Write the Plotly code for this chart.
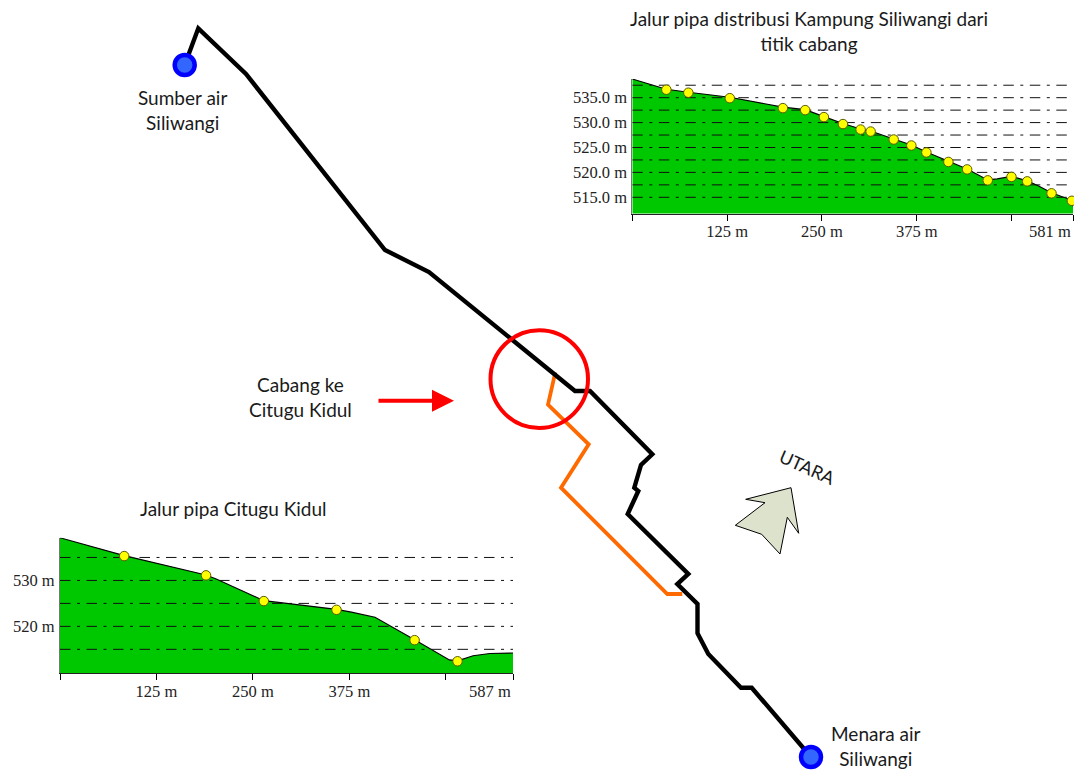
import plotly.graph_objects as go

# ---------- map (schematic plan of the pipe routes, picture units) ----------
main_route_x = [184.7, 198.3, 246, 385, 429, 566, 575, 590, 652.3, 641, 634.3, 638.3, 627.7,
                688.3, 677.3, 697.5, 697.5, 708.3, 741, 751.7, 803.3, 811]
main_route_y = [65, 28.3, 74, 250, 272, 382.5, 391, 391, 454.3, 465, 487.7, 491, 514,
                574, 584, 604, 633.3, 654, 687.7, 687.7, 746.7, 757]
branch_x = [555.3, 548, 588.7, 561, 667.3, 682.3]
branch_y = [372.3, 404.7, 444.3, 487.7, 594, 594]
ends_x = [184.7, 811]
ends_y = [65, 757]
compass_x = [791, 745.7, 765, 735.3, 761.7, 780, 787.3, 798.7, 791]
compass_y = [487.7, 499.3, 502.7, 525.3, 534.3, 554, 517.3, 533.3, 487.7]

# ---------- profile: Kampung Siliwangi ----------
sw_terrain_m = [0, 44.9, 73.9, 128.5, 198.5, 227.9, 252.6, 277.7, 301, 314.2, 344.6, 367.9, 387.7,
                416.7, 441.4, 468.6, 481, 499.9, 520.6, 535, 552.7, 579.5, 581]
sw_terrain_el = [538.75, 536.7, 536.1, 535.1, 533.1, 532.6, 531.2, 529.8, 528.7, 528.3, 526.7, 525.5, 524.1,
                 522.2, 520.7, 518.5, 518.7, 519.2, 518.3, 517.3, 515.9, 514.4, 513.2]
sw_pts_m = [44.9, 73.9, 128.5, 198.5, 227.9, 252.6, 277.7, 301, 314.2, 344.6, 367.9, 387.7,
            416.7, 441.4, 468.6, 499.9, 520.6, 552.7, 579.5]
sw_pts_el = [536.6, 536.0, 534.9, 532.9, 532.5, 531.1, 529.7, 528.6, 528.2, 526.6, 525.4, 524.0,
             522.1, 520.6, 518.4, 519.1, 518.2, 515.8, 514.3]
sw_grid = [537.5, 535, 532.5, 530, 527.5, 525, 522.5, 520, 517.5, 515]
sw_yticks = [535, 530, 525, 520, 515]
sw_ylabels = ["535.0 m", "530.0 m", "525.0 m", "520.0 m", "515.0 m"]
sw_xticks = [0, 125, 250, 375, 500, 581]
sw_xlabels = ["", "125 m", "250 m", "375 m", "", ""]

# ---------- profile: Citugu Kidul ----------
ck_terrain_m = [0, 83.2, 189.2, 202.4, 264.1, 358.3, 377.6, 408.2, 459.5, 504.6, 515.1, 535.3, 557, 587]
ck_terrain_el = [539.3, 535.4, 531.2, 530.3, 525.6, 523.7, 523.1, 522.0, 517.1, 512.7, 512.5, 513.6, 514.1, 514.2]
ck_pts_m = [83.2, 189.2, 264.1, 358.3, 459.5, 515.1]
ck_pts_el = [535.3, 531.1, 525.5, 523.6, 517.0, 512.4]
ck_grid = [535, 530, 525, 520, 515]
ck_yticks = [530, 520]
ck_ylabels = ["530 m", "520 m"]
ck_xticks = [0, 125, 250, 375, 500, 587]
ck_xlabels = ["", "125 m", "250 m", "375 m", "", ""]

W, H = 1074, 770
GREEN = "#00C800"
DASH = "10.5px,6.5px,3px,6.5px"
SANS = "Lato"
SERIF = "Liberation Serif"

fig = go.Figure()

# map traces
fig.add_trace(go.Scatter(x=branch_x, y=branch_y, mode="lines",
                         line=dict(color="#FF6A00", width=3.8, shape="linear"), hoverinfo="skip"))
fig.add_trace(go.Scatter(x=main_route_x, y=main_route_y, mode="lines",
                         line=dict(color="#000000", width=4.4), hoverinfo="skip"))
fig.add_trace(go.Scatter(x=ends_x, y=ends_y, mode="markers",
                         marker=dict(size=20, color="#3366FF", line=dict(color="#0000FF", width=4.5)),
                         hoverinfo="skip"))
fig.add_trace(go.Scatter(x=compass_x, y=compass_y, mode="lines", fill="toself", fillcolor="#DDE2CC",
                         line=dict(color="#000000", width=1), hoverinfo="skip"))


def profile(xa, ya, terrain_m, terrain_el, pts_m, pts_el, grid):
    xmax = terrain_m[-1]
    fig.add_trace(go.Scatter(x=terrain_m, y=terrain_el, mode="lines", fill="tozeroy", fillcolor=GREEN,
                             line=dict(color="#000000", width=1.1), xaxis=xa, yaxis=ya, hoverinfo="skip"))
    for g in grid:
        fig.add_trace(go.Scatter(x=[0, xmax], y=[g, g], mode="lines",
                                 line=dict(color="#111111", width=1, dash=DASH),
                                 xaxis=xa, yaxis=ya, hoverinfo="skip"))
    fig.add_trace(go.Scatter(x=pts_m, y=pts_el, mode="markers", cliponaxis=False,
                             marker=dict(size=9.5, color="#FFFF00", line=dict(color="#5A5A00", width=1)),
                             xaxis=xa, yaxis=ya, hoverinfo="skip"))


profile("x2", "y2", sw_terrain_m, sw_terrain_el, sw_pts_m, sw_pts_el, sw_grid)
profile("x3", "y3", ck_terrain_m, ck_terrain_el, ck_pts_m, ck_pts_el, ck_grid)


def txt(x, y, s, size=19, **kw):
    return dict(x=x, y=y, xref="x", yref="y", text=s, showarrow=False,
                font=dict(family=SANS, size=size, color="#1a1a1a"), align="center", **kw)


annotations = [
    txt(809, 31, "Jalur pipa distribusi Kampung Siliwangi dari<br>titik cabang"),
    txt(233, 508, "Jalur pipa Citugu Kidul"),
    txt(182, 110, "Sumber air<br>Siliwangi"),
    txt(300, 397, "Cabang ke<br>Citugu Kidul"),
    txt(875, 746, "Menara air<br>Siliwangi"),
    txt(807, 467, "UTARA", size=18, textangle=24),
    dict(x=454, y=400.7, ax=377, ay=400.7, xref="x", yref="y", axref="x", ayref="y", text="",
         showarrow=True, arrowhead=2, arrowsize=1.1, arrowwidth=4, arrowcolor="#FF0000"),
    dict(x=1, y=0, xref="x2 domain", yref="y2 domain", xanchor="right", yanchor="top", yshift=-7,
         text="581 m", showarrow=False, font=dict(family=SERIF, size=16.5, color="#222222")),
    dict(x=1, y=0, xref="x3 domain", yref="y3 domain", xanchor="right", yanchor="top", yshift=-7,
         text="587 m", showarrow=False, font=dict(family=SERIF, size=16.5, color="#222222")),
]

tickfont = dict(family=SERIF, size=16.5, color="#222222")


def x_ax(left, right, rng, vals, labels):
    return dict(domain=[left / W, right / W], range=rng, tickmode="array", tickvals=vals, ticktext=labels,
                ticks="outside", ticklen=6, tickwidth=1, tickcolor="#000000", showgrid=False, zeroline=False,
                showline=True, linecolor="#222222", linewidth=1.3, tickfont=tickfont, layer="above traces",
                ticklabelstandoff=-3, fixedrange=True)


def y_ax(anchor, top, bottom, rng, vals, labels):
    return dict(domain=[(H - bottom) / H, (H - top) / H], range=rng, anchor=anchor, tickmode="array",
                tickvals=vals, ticktext=labels, ticks="outside", ticklen=1, tickcolor="rgba(0,0,0,0)",
                showgrid=False, zeroline=False, showline=True, linecolor="#777777", linewidth=1,
                tickfont=tickfont, fixedrange=True)


fig.update_layout(
    width=W, height=H, margin=dict(l=0, r=0, t=0, b=0), autosize=False,
    paper_bgcolor="white", plot_bgcolor="rgba(0,0,0,0)", showlegend=False,
    xaxis=dict(domain=[0, 1], range=[0, W], visible=False, fixedrange=True),
    yaxis=dict(domain=[0, 1], range=[H, 0], visible=False, fixedrange=True),
    xaxis2=dict(anchor="y2", **x_ax(632.3, 1073, [0, 581], sw_xticks, sw_xlabels)),
    yaxis2=y_ax("x2", 79, 213.5, [511.75, 538.75], sw_yticks, sw_ylabels),
    xaxis3=dict(anchor="y3", **x_ax(60, 513, [0, 587], ck_xticks, ck_xlabels)),
    yaxis3=y_ax("x3", 537.7, 673, [509.85, 539.3], ck_yticks, ck_ylabels),
    shapes=[dict(type="circle", xref="x", yref="y", x0=490.5, x1=588, y0=330.2, y1=428,
                 line=dict(color="#FF0000", width=4), layer="above")],
    annotations=annotations,
)

fig.write_html("out.html", include_plotlyjs=True, config={"displayModeBar": False},
               post_script="document.body.style.margin='0';document.body.style.background='white';")
